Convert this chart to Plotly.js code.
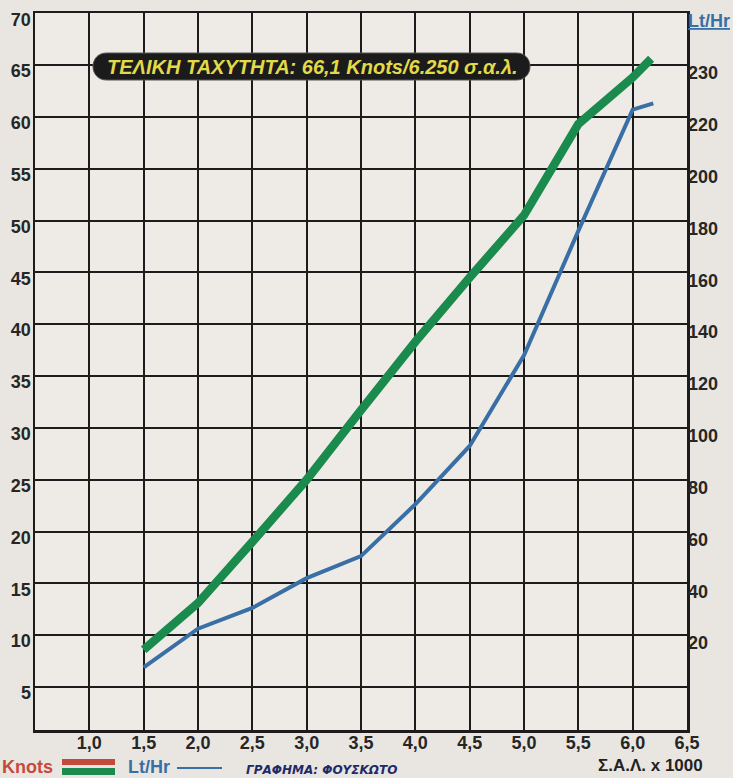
<!DOCTYPE html>
<html>
<head>
<meta charset="utf-8">
<script src="https://cdn.plot.ly/plotly-3.0.1.min.js"></script>
<style>
  html, body { margin: 0; padding: 0; background: #e9e6e1; }
  #chart { width: 733px; height: 778px; }
</style>
</head>
<body>
<div id="chart"></div>
<script>
// ---- data ----
const rpm      = [1.5, 2.0, 2.5, 3.0, 3.5, 4.0, 4.5, 5.0, 5.5, 6.0, 6.17];
const knots    = [8.6, 13.1, 19.0, 25.0, 31.7, 38.3, 44.5, 50.5, 59.3, 63.8, 65.6];
const rpmFuel  = [1.5, 2.0, 2.5, 3.0, 3.5, 4.0, 4.5, 5.0, 5.5, 6.0, 6.19];
const ltHr     = [7.6, 22.5, 30.5, 42, 50.5, 70.5, 93, 128, 176, 222.8, 225.2];

const xTicks       = [1.0, 1.5, 2.0, 2.5, 3.0, 3.5, 4.0, 4.5, 5.0, 5.5, 6.0, 6.5];
const knotTicks    = [5, 10, 15, 20, 25, 30, 35, 40, 45, 50, 55, 60, 65, 70];
const fuelTickVals = [20, 40, 60, 80, 100, 120, 140, 160, 180, 200, 220, 240];
const fuelTickText = ['20', '40', '60', '80', '100', '120', '140', '160', '180', '200', '220', '230'];

const titleText  = 'ΤΕΛΙΚΗ ΤΑΧΥΤΗΤΑ: 66,1 Knots/6.250 σ.α.λ.';
const creditText = 'ΓΡΑΦΗΜΑ: ΦΟΥΣΚΩΤΟ';
const xTitleText = 'Σ.Α.Λ. x 1000';

// ---- styling ----
const FONT = 'Liberation Sans, Arial, sans-serif';
const GREEN = '#1b8a4d';
const BLUE = '#3a6fa6';
const RED = '#c64a3b';
const INK = '#1c1c1c';

// plot area in pixels
const L = 35, R = 687, T = 13, B = 730, W = 733, H = 778;
const px = x => (x - L) / (R - L);
const py = y => (B - y) / (B - T);

const yMin = 0.85, yMax = 70.02;

const traces = [
  {
    x: rpm, y: knots, type: 'scatter', mode: 'lines', name: 'Knots',
    line: { color: GREEN, width: 8.5 }, yaxis: 'y'
  },
  {
    x: rpmFuel, y: ltHr, type: 'scatter', mode: 'lines', name: 'Lt/Hr',
    line: { color: BLUE, width: 4 }, yaxis: 'y2'
  }
];

const tickFont = { family: FONT, size: 18, weight: 'bold', color: '#262626' };

const layout = {
  width: W, height: H,
  margin: { l: L, r: W - R, t: T, b: H - B, pad: 0 },
  paper_bgcolor: '#e9e6e1',
  plot_bgcolor: '#eeebe6',
  showlegend: false,
  separators: ',.',
  xaxis: {
    range: [0.5, 6.5], tickvals: xTicks, tickformat: '.1f',
    showgrid: true, gridcolor: INK, gridwidth: 2,
    showline: true, linecolor: INK, linewidth: 2.5, mirror: true,
    zeroline: false, ticks: '', tickfont: tickFont, ticklabelstandoff: -5
  },
  yaxis: {
    range: [yMin, yMax], tickvals: knotTicks,
    showgrid: true, gridcolor: INK, gridwidth: 2,
    showline: true, linecolor: INK, linewidth: 2.5, mirror: true,
    zeroline: false, ticks: '', tickfont: tickFont,
    ticklabelshift: 6, ticklabelstandoff: -2
  },
  yaxis2: {
    overlaying: 'y', side: 'right',
    range: [4 * yMin - 20, 4 * yMax - 20],
    tickvals: fuelTickVals, ticktext: fuelTickText,
    showgrid: false, zeroline: false, showline: false, ticks: '',
    tickfont: tickFont,
    ticklabelshift: 8, ticklabelstandoff: 0
  },
  shapes: [
    // title pill
    {
      type: 'path', xref: 'paper', yref: 'paper',
      xsizemode: 'pixel', ysizemode: 'pixel',
      xanchor: px(311.5), yanchor: py(66.5),
      path: 'M -205,-13.5 L 205,-13.5 C 223,-13.5 223,13.5 205,13.5 L -205,13.5 C -223,13.5 -223,-13.5 -205,-13.5 Z',
      fillcolor: '#1b1b1b', line: { color: '#555', width: 1 }, layer: 'above'
    },
    // legend swatches
    { type: 'rect', xref: 'paper', yref: 'paper', x0: px(62), x1: px(115), y0: py(765), y1: py(759),
      fillcolor: RED, line: { width: 0 } },
    { type: 'rect', xref: 'paper', yref: 'paper', x0: px(62), x1: px(115), y0: py(775), y1: py(768),
      fillcolor: GREEN, line: { width: 0 } },
    { type: 'line', xref: 'paper', yref: 'paper', x0: px(177), x1: px(222), y0: py(768), y1: py(768),
      line: { color: BLUE, width: 2 } }
  ],
  annotations: [
    {
      text: titleText, xref: 'paper', yref: 'paper', x: px(312), y: py(67),
      showarrow: false, xanchor: 'center', yanchor: 'middle',
      font: { family: FONT, size: 20, weight: 'bold', style: 'italic', color: '#e2da48' }
    },
    {
      text: 'Lt/Hr', xref: 'paper', yref: 'paper', x: px(709), y: py(21),
      showarrow: false, xanchor: 'center', yanchor: 'middle',
      font: { family: FONT, size: 18, weight: 'bold', color: BLUE, lineposition: 'under' }
    },
    {
      text: 'Knots', xref: 'paper', yref: 'paper', x: px(27), y: py(767),
      showarrow: false, xanchor: 'center', yanchor: 'middle',
      font: { family: FONT, size: 18, weight: 'bold', color: RED }
    },
    {
      text: 'Lt/Hr', xref: 'paper', yref: 'paper', x: px(149), y: py(767),
      showarrow: false, xanchor: 'center', yanchor: 'middle',
      font: { family: FONT, size: 18, weight: 'bold', color: BLUE }
    },
    {
      text: creditText, xref: 'paper', yref: 'paper', x: px(321), y: py(770),
      showarrow: false, xanchor: 'center', yanchor: 'middle',
      font: { family: 'DejaVu Sans, sans-serif', size: 12, weight: 'bold', style: 'italic', color: '#1d2b6a' }
    },
    {
      text: xTitleText, xref: 'paper', yref: 'paper', x: px(650), y: py(765),
      showarrow: false, xanchor: 'center', yanchor: 'middle',
      font: { family: FONT, size: 17, weight: 'bold', color: '#222' }
    }
  ]
};

Plotly.newPlot('chart', traces, layout, { displayModeBar: false, staticPlot: true });
</script>
</body>
</html>
